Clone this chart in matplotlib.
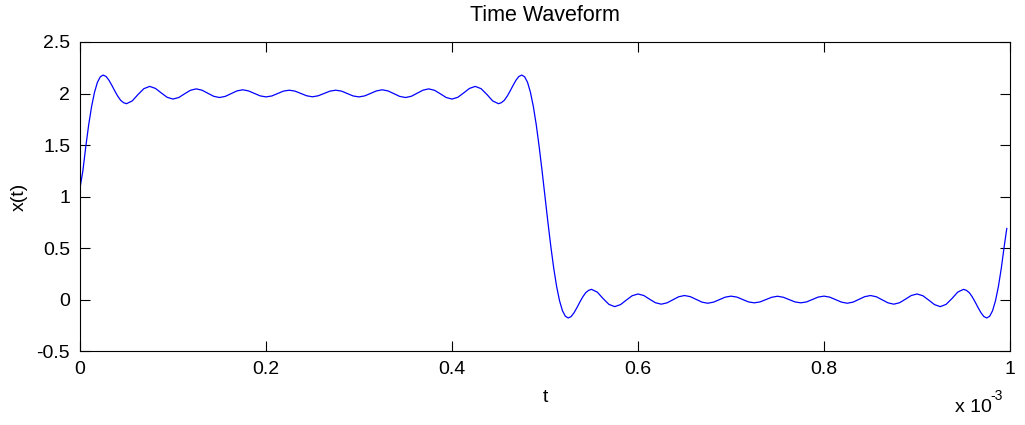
import numpy as np
import matplotlib.pyplot as plt
from matplotlib.ticker import FuncFormatter

# sample times in ms: finer steps around the edges, coarser on the flat parts
t_ms = np.concatenate([
    np.arange(17) * 0.003125,              # 0 .. 0.05
    0.05625 + np.arange(63) * 0.00625,     # 0.05625 .. 0.44375
    0.45 + np.arange(33) * 0.003125,       # 0.45 .. 0.55
    0.55625 + np.arange(63) * 0.00625,     # 0.55625 .. 0.94375
    0.95 + np.arange(15) * 0.003125,       # 0.95 .. 0.99375
    [0.9965],
])

# x(t) on the rising edge and first ripples
x_rise = [1.080, 1.248, 1.483, 1.695, 1.873, 2.011, 2.108, 2.162, 2.179,
          2.165, 2.128, 2.078, 2.024, 1.974, 1.934, 1.911, 1.901]
# top plateau
x_top = [
    1.928, 1.991, 2.047, 2.069, 2.049, 2.005, 1.963, 1.946, 1.961, 1.997,
    2.031, 2.045, 2.032, 2.002, 1.973, 1.961, 1.972, 1.999, 2.025, 2.036,
    2.025, 2.001, 1.977, 1.967, 1.976, 2.000, 2.023, 2.032, 2.023, 2.000,
    1.978, 1.968, 1.978, 2.000, 2.023, 2.032, 2.023, 2.000, 1.976, 1.967,
    1.977, 2.001, 2.025, 2.036, 2.025, 1.999, 1.972, 1.961, 1.973, 2.002,
    2.032, 2.045, 2.031, 1.997, 1.961, 1.946, 1.963, 2.005, 2.049, 2.069,
    2.047, 1.991, 1.928,
]
# falling edge around t = 0.5 ms
x_fall = [
    1.901, 1.911, 1.934, 1.974, 2.024, 2.078, 2.128, 2.165, 2.179, 2.162,
    2.108, 2.011, 1.873, 1.695, 1.483, 1.248, 1.000, 0.752, 0.517, 0.305,
    0.127, -0.011, -0.108, -0.162, -0.179, -0.165, -0.128, -0.078, -0.024,
    0.026, 0.066, 0.089, 0.099,
]
# bottom plateau
x_bottom = [
    0.072, 0.009, -0.047, -0.069, -0.049, -0.005, 0.037, 0.054, 0.039, 0.003,
    -0.031, -0.045, -0.032, -0.002, 0.027, 0.039, 0.028, 0.001, -0.025, -0.036,
    -0.025, -0.001, 0.023, 0.033, 0.024, 0.000, -0.023, -0.032, -0.023, 0.000,
    0.022, 0.032, 0.022, 0.000, -0.023, -0.032, -0.023, 0.000, 0.024, 0.033,
    0.023, -0.001, -0.025, -0.036, -0.025, 0.001, 0.028, 0.039, 0.027, -0.002,
    -0.032, -0.045, -0.031, 0.003, 0.039, 0.054, 0.037, -0.005, -0.049, -0.069,
    -0.047, 0.009, 0.072,
]
# last ripples and start of the next rise
x_end = [0.099, 0.089, 0.066, 0.026, -0.024, -0.078, -0.128, -0.165, -0.179,
         -0.162, -0.108, -0.011, 0.127, 0.305, 0.517, 0.690]

x_vals = np.array(x_rise + x_top + x_fall + x_bottom + x_end)

x_ticks = [0, 0.2e-3, 0.4e-3, 0.6e-3, 0.8e-3, 1e-3]
y_ticks = [-0.5, 0, 0.5, 1, 1.5, 2, 2.5]

plt.rcParams['font.family'] = ['Liberation Sans', 'DejaVu Sans']

fig = plt.figure(figsize=(10.25, 4.25), dpi=100)
ax = fig.add_axes([0.078, 0.174, 0.9074, 0.7272])

# time axis in seconds
ax.plot(t_ms * 1e-3, x_vals, color='blue', linewidth=0.9)

ax.set_xlim(0, 1e-3)
ax.set_ylim(-0.5, 2.5)
ax.set_xticks(x_ticks)
ax.set_yticks(y_ticks)
ax.xaxis.set_major_formatter(FuncFormatter(lambda v, p: f"{v * 1e3:g}"))
ax.yaxis.set_major_formatter(FuncFormatter(lambda v, p: f"{v:g}"))

ax.tick_params(direction='in', length=7, width=0.8, top=True, right=True,
               labelsize=14, pad=7, colors='black')
for s in ax.spines.values():
    s.set_linewidth(0.8)

ax.set_title('Time Waveform', fontsize=15.5, pad=15)
ax.set_xlabel('t', fontsize=14, labelpad=8)
ax.set_ylabel('x(t)', fontsize=14, labelpad=6)

# exponent note for the time axis
fig.text(0.932, 0.03, 'x 10', fontsize=14)
fig.text(0.9665, 0.06, '-3', fontsize=10)

fig.savefig('out.png', dpi=100)
